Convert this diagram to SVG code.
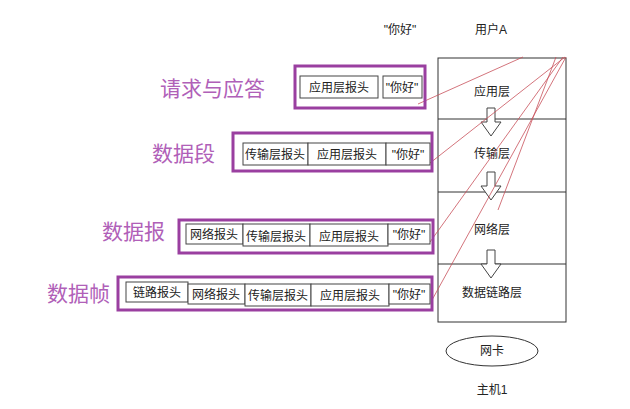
<svg xmlns="http://www.w3.org/2000/svg" width="630" height="409" viewBox="0 0 630 409">
<style>
text{font-family:"Liberation Sans","Noto Sans CJK SC",sans-serif;fill:#222;font-size:12px}
.lbl{fill:#b060b8;font-size:21px}
.pb{fill:none;stroke:#9a3fa0;stroke-width:3}
.hb{fill:#fff;stroke:#444;stroke-width:1}
.st{fill:none;stroke:#333;stroke-width:1}
.red{stroke:#c8505a;stroke-width:0.8;fill:none}
.arr{fill:#fff;stroke:#444;stroke-width:1}
</style>
<rect width="630" height="409" fill="#fff"/>
<text x="400" y="34" text-anchor="middle">"你好"</text>
<text x="491" y="34" text-anchor="middle">用户A</text>
<g id="stack">
<rect class="st" x="438" y="58" width="128" height="264"/>
<line class="st" x1="438" y1="119" x2="566" y2="119"/>
<line class="st" x1="438" y1="192" x2="566" y2="192"/>
<line class="st" x1="438" y1="264" x2="566" y2="264"/>
<text x="492" y="96" text-anchor="middle">应用层</text>
<text x="492" y="158" text-anchor="middle">传输层</text>
<text x="492" y="234" text-anchor="middle">网络层</text>
<text x="492" y="297" text-anchor="middle">数据链路层</text>
</g>
<g id="arrows">
<path class="arr" d="M487,108 h8 v14 h6 l-10,14 l-10,-14 h6 z"/>
<path class="arr" d="M487,172 h8 v14 h6 l-10,14 l-10,-14 h6 z"/>
<path class="arr" d="M487,250 h8 v14 h6 l-10,14 l-10,-14 h6 z"/>
</g>
<g id="nic"><ellipse cx="492" cy="351" rx="46" ry="15" fill="#fff" stroke="#333"/><text x="492" y="355" text-anchor="middle">网卡</text></g>
<text x="492" y="394" text-anchor="middle">主机1</text>
<g id="connectors">
<line class="red" x1="523" y1="57" x2="418" y2="104"/>
<line class="red" x1="565" y1="57" x2="430" y2="163"/>
<line class="red" x1="563" y1="57" x2="430" y2="242"/>
<line class="red" x1="566" y1="57" x2="432" y2="300"/>
<line class="red" x1="556" y1="57" x2="498" y2="210"/>
</g>
<g id="row1">
<text class="lbl" x="160" y="96">请求与应答</text>
<rect class="pb" x="295" y="66" width="130" height="42"/>
<rect class="hb" x="300" y="76" width="78" height="22"/><text x="339" y="92" text-anchor="middle">应用层报头</text>
<rect class="hb" x="383" y="76" width="39" height="22"/><text x="402" y="92" text-anchor="middle">"你好"</text>
</g>
<g id="row2">
<text class="lbl" x="152" y="161">数据段</text>
<rect class="pb" x="233" y="133" width="199" height="38"/>
<rect class="hb" x="243" y="143" width="65" height="22"/><text x="275" y="159" text-anchor="middle">传输层报头</text>
<rect class="hb" x="308" y="143" width="78" height="22"/><text x="347" y="159" text-anchor="middle">应用层报头</text>
<rect class="hb" x="386" y="143" width="44" height="22"/><text x="408" y="159" text-anchor="middle">"你好"</text>
</g>
<g id="row3">
<text class="lbl" x="102" y="239">数据报</text>
<rect class="pb" x="179" y="220" width="254" height="33"/>
<rect class="hb" x="186" y="224" width="57" height="20"/><text x="214" y="239" text-anchor="middle">网络报头</text>
<rect class="hb" x="243" y="224" width="67" height="22"/><text x="276" y="241" text-anchor="middle">传输层报头</text>
<rect class="hb" x="310" y="224" width="78" height="22"/><text x="349" y="241" text-anchor="middle">应用层报头</text>
<rect class="hb" x="388" y="224" width="42" height="20"/><text x="409" y="239" text-anchor="middle">"你好"</text>
</g>
<g id="row4">
<text class="lbl" x="47" y="301">数据帧</text>
<rect class="pb" x="118" y="277" width="314" height="33"/>
<rect class="hb" x="126" y="282" width="62" height="20"/><text x="157" y="297" text-anchor="middle">链路报头</text>
<rect class="hb" x="188" y="284" width="57" height="20"/><text x="216" y="299" text-anchor="middle">网络报头</text>
<rect class="hb" x="245" y="284" width="66" height="22"/><text x="278" y="300" text-anchor="middle">传输层报头</text>
<rect class="hb" x="311" y="284" width="78" height="22"/><text x="350" y="300" text-anchor="middle">应用层报头</text>
<rect class="hb" x="389" y="284" width="41" height="20"/><text x="409" y="299" text-anchor="middle">"你好"</text>
</g>
</svg>
